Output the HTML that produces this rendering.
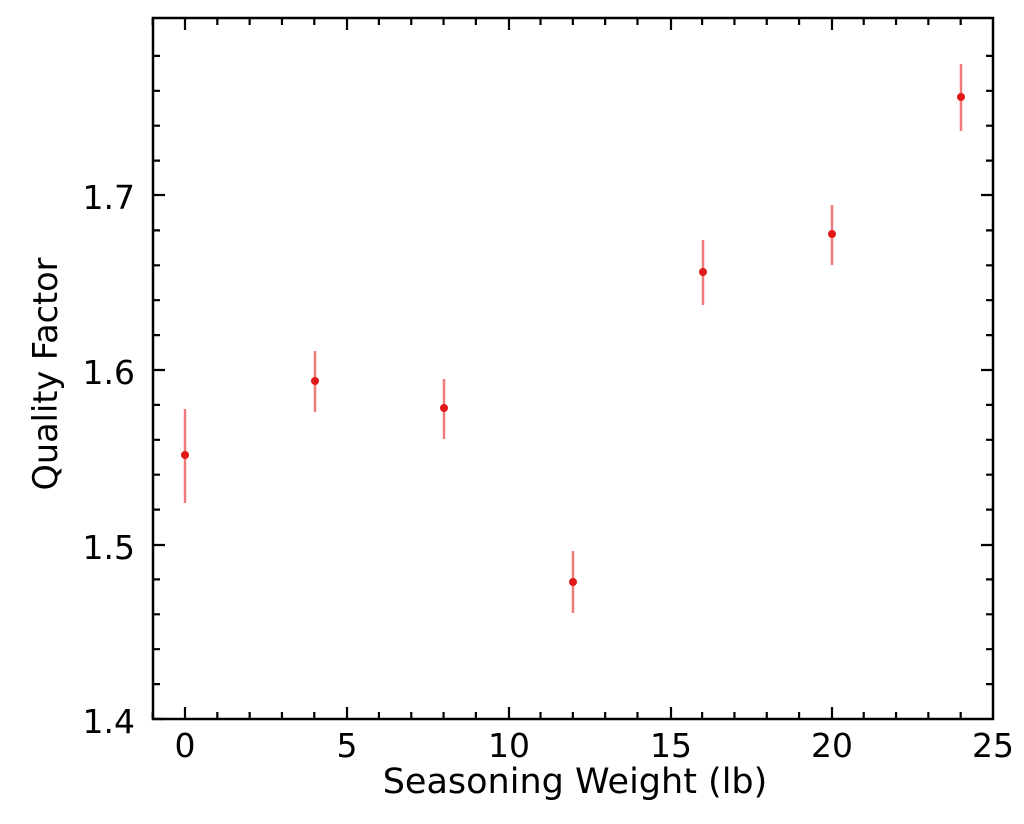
<!DOCTYPE html>
<html><head><style>html,body{margin:0;padding:0;background:#fff}</style></head><body>
<svg width="1024" height="819" xmlns="http://www.w3.org/2000/svg" font-family="DejaVu Sans, Liberation Sans, sans-serif">
<rect width="1024" height="819" fill="#fff"/>
<g stroke="#000" stroke-width="2.2">
<path d="M185,719v-12M347,719v-12M509,719v-12M671,719v-12M832,719v-12M185,18v12M347,18v12M509,18v12M671,18v12M832,18v12"/>
<path d="M153,719h12M153,545h12M153,370h12M153,195h12M993,545h-12M993,370h-12M993,195h-12"/>
<path id="minx" d=""/>
<path id="miny" d=""/>
</g>
<rect x="153" y="18" width="840" height="701" fill="none" stroke="#000" stroke-width="2.5"/>
<g font-size="33" fill="#000" text-anchor="middle">
<text x="185" y="757">0</text><text x="347" y="757">5</text><text x="509" y="757">10</text>
<text x="671" y="757">15</text><text x="832" y="757">20</text><text x="993" y="757">25</text>
</g>
<text x="575" y="793" font-size="35" text-anchor="middle">Seasoning Weight (lb)</text>
<g font-size="33" fill="#000" text-anchor="end">
<text x="135" y="733">1.4</text><text x="135" y="559">1.5</text><text x="135" y="384">1.6</text><text x="135" y="209">1.7</text>
</g>
<text transform="translate(57,374) rotate(-90)" font-size="33.5" text-anchor="middle">Quality Factor</text>
<g stroke="#ef7a7a" stroke-width="2.5">
<path d="M185,409v94M315,351v61M444,379v60M573,551v62M703,240v65M832,205v60M961,64v67"/>
</g>
<g fill="#e01818">
<circle cx="185" cy="455" r="4"/><circle cx="315" cy="381" r="4"/><circle cx="444" cy="408" r="4"/>
<circle cx="573" cy="582" r="4"/><circle cx="703" cy="272" r="4"/><circle cx="832" cy="234" r="4"/><circle cx="961" cy="97" r="4"/>
</g>
<script>
var d="";for(var i=-1;i<=25;i++){var x=185+i*32.32;if(i%5)d+="M"+x+",719v-7M"+x+",18v7";}
document.getElementById("minx").setAttribute("d",d);
var e="";for(var j=0;j<=20;j++){var y=719-j*34.9;if(y<18)break;if(j%5)e+="M153,"+y+"h7M993,"+y+"h-7";}
document.getElementById("miny").setAttribute("d",e);
</script>
</svg>
</body></html>
